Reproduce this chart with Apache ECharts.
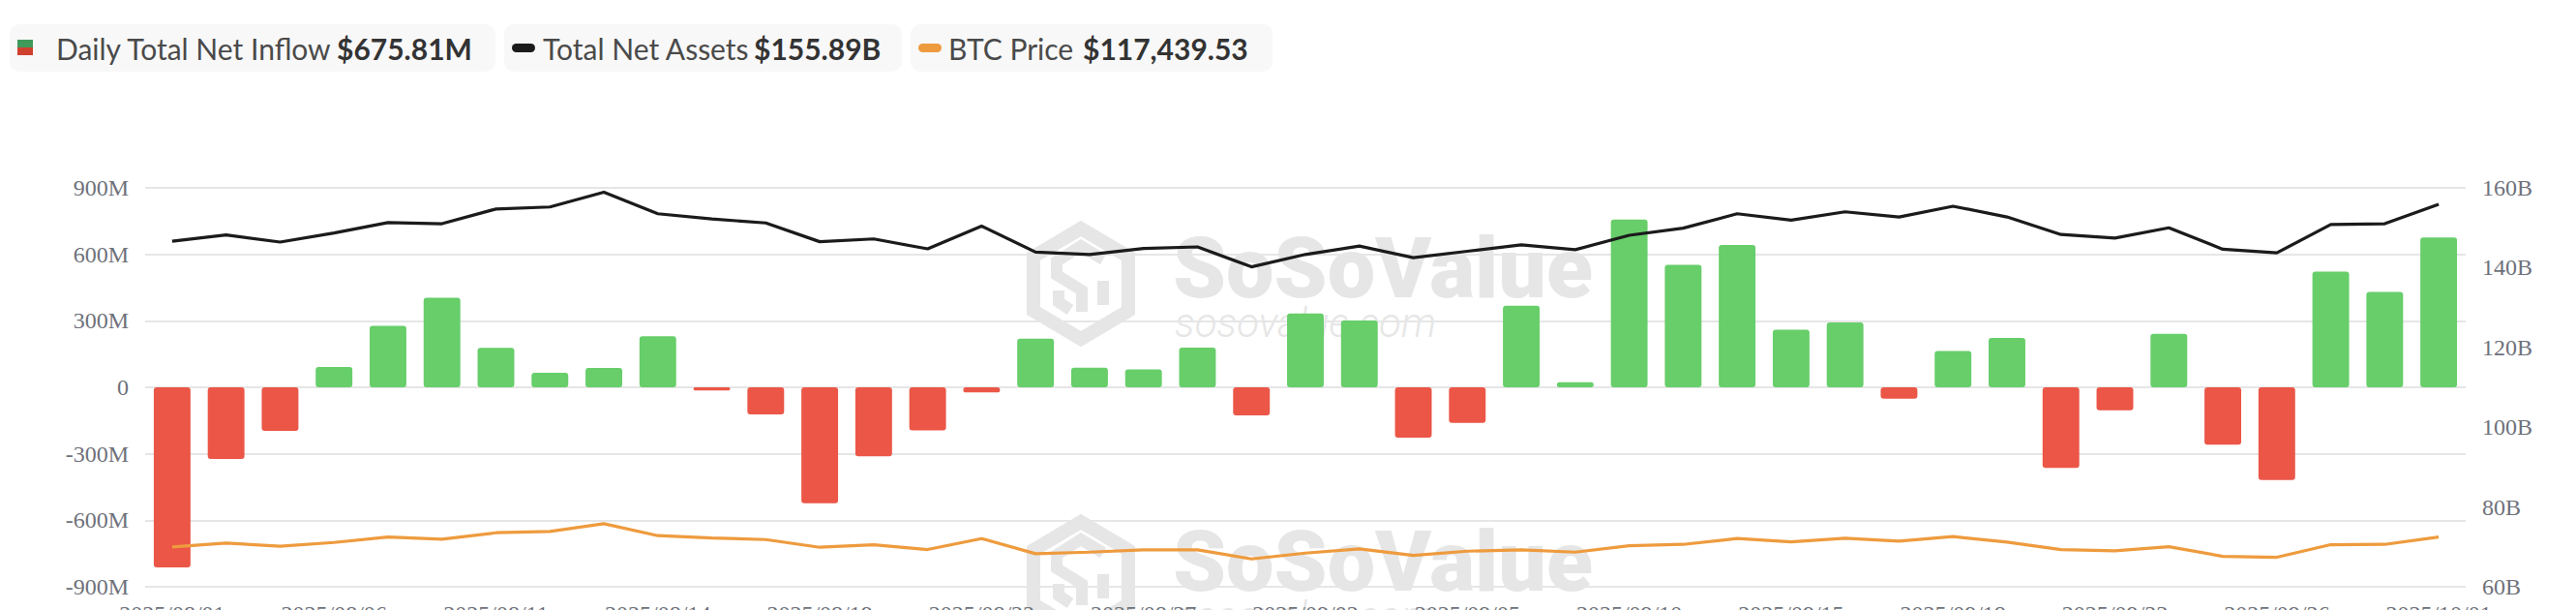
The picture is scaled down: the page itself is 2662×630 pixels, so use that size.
<!DOCTYPE html>
<html>
<head>
<meta charset="utf-8">
<script src="https://cdn.jsdelivr.net/npm/echarts@6/dist/echarts.min.js"></script>
<style>
html,body{margin:0;padding:0;background:#fff;overflow:hidden;}
#c{width:2662px;height:630px;}
</style>
</head>
<body>
<div id="c"></div>
<script>
const dates = ['2025/08/01','2025/08/04','2025/08/05','2025/08/06','2025/08/07','2025/08/08','2025/08/11','2025/08/12','2025/08/13','2025/08/14','2025/08/15','2025/08/18','2025/08/19','2025/08/20','2025/08/21','2025/08/22','2025/08/25','2025/08/26','2025/08/27','2025/08/28','2025/08/29','2025/09/02','2025/09/03','2025/09/04','2025/09/05','2025/09/08','2025/09/09','2025/09/10','2025/09/11','2025/09/12','2025/09/15','2025/09/16','2025/09/17','2025/09/18','2025/09/19','2025/09/22','2025/09/23','2025/09/24','2025/09/25','2025/09/26','2025/09/29','2025/09/30','2025/10/01'];
// Daily total net inflow, in millions USD
const netInflow = [-812.25,-323.48,-196.18,91.55,277.39,403.88,178.15,65.47,86.91,230.93,-14.12,-121.81,-523.31,-311.83,-194.35,-23.19,219.0,88.2,81.3,178.99,-126.64,332.7,301.3,-227.61,-160.07,368.25,23.05,757.14,552.78,642.35,260.02,292.27,-51.28,163.34,222.98,-363.17,-103.61,241.0,-258.45,-418.25,521.95,429.96,675.81];
// Total net assets, in billions USD
const netAssets = [146.6,148.2,146.4,148.7,151.3,151.0,154.7,155.2,158.9,153.5,152.2,151.2,146.5,147.2,144.7,150.4,143.9,143.3,144.8,145.2,140.2,143.3,145.4,142.5,144.1,145.7,144.5,148.1,149.9,153.5,151.9,154.0,152.7,155.4,152.7,148.3,147.4,150.0,144.6,143.7,150.8,151.0,155.89];
// BTC price, USD
const btcPrice = [113190,114840,113470,115110,117440,116480,119220,119770,123060,117990,117030,116340,113060,114150,112100,116760,110320,111000,111960,111960,108120,110590,112370,109630,111410,111960,111000,113740,114290,116760,115390,116890,115660,117580,115250,112100,111550,113330,109220,108810,114150,114290,117439.53];
const leftTicks = {min:-900, max:900, interval:300};
const rightTicks = {min:60, max:160, interval:20};
const legendNames = ['Daily Total Net Inflow','Total Net Assets','BTC Price'];
const legendValues = ['$675.81M','$155.89B','$117,439.53'];

const GREEN = '#67CE6A', RED = '#EB5647', BLACK = '#1b1b1b', ORANGE = '#EE9B3E';
const labelFont = '"Liberation Serif", "Times New Roman", serif';
const legFont = 'Lato, "Noto Sans", sans-serif';
const WM = '#e6e6e6';

const chart = echarts.init(document.getElementById('c'), null, {renderer:'svg'});

function wm(dy){
  return [
    {type:'polygon', z:0, shape:{points:[[1117,236+dy],[1166,265+dy],[1166,321+dy],[1117,350+dy],[1068,321+dy],[1068,265+dy]]},
      style:{fill:'none', stroke:WM, lineWidth:14, lineJoin:'miter'}},
    {type:'polyline', z:0, shape:{points:[[1140,268+dy],[1117,254+dy],[1092,270+dy],[1092,284+dy],[1118,300+dy],[1118,322+dy]]},
      style:{fill:'none', stroke:WM, lineWidth:12}},
    {type:'polyline', z:0, shape:{points:[[1140,290+dy],[1140,315+dy]]},
      style:{fill:'none', stroke:WM, lineWidth:12}},
    {type:'polyline', z:0, shape:{points:[[1094,300+dy],[1094,312+dy],[1106,320+dy]]},
      style:{fill:'none', stroke:WM, lineWidth:12}},
    {type:'text', z:0, x:1212, y:276+dy, style:{text:'SoSoValue', fill:WM, font:'900 88px Roboto, sans-serif', verticalAlign:'middle'}},
    {type:'text', z:0, x:1214, y:333+dy, style:{text:'sosovalue.com', fill:WM, font:'italic 300 42px Roboto, sans-serif', verticalAlign:'middle'}}
  ];
}

const legendGraphics = [
  {type:'rect', shape:{x:10,y:25,width:502,height:49,r:10}, style:{fill:'#f8f8f8'}},
  {type:'rect', shape:{x:521,y:25,width:411,height:49,r:10}, style:{fill:'#f8f8f8'}},
  {type:'rect', shape:{x:941,y:25,width:374,height:49,r:10}, style:{fill:'#f8f8f8'}},
  {type:'rect', shape:{x:18,y:41,width:16,height:8}, style:{fill:'#3f9a5c'}},
  {type:'rect', shape:{x:18,y:49,width:16,height:8}, style:{fill:'#d0402f'}},
  {type:'rect', shape:{x:529,y:45,width:24,height:9,r:4.5}, style:{fill:BLACK}},
  {type:'rect', shape:{x:949,y:45,width:24,height:9,r:4.5}, style:{fill:ORANGE}},
  {type:'text', x:58, y:50, style:{text:legendNames[0], fill:'#4a4a4a', font:'400 30px '+legFont, verticalAlign:'middle'}},
  {type:'text', x:348, y:50, style:{text:legendValues[0], fill:'#333', font:'700 30px '+legFont, verticalAlign:'middle'}},
  {type:'text', x:561, y:50, style:{text:legendNames[1], fill:'#4a4a4a', font:'400 30px '+legFont, verticalAlign:'middle'}},
  {type:'text', x:779, y:50, style:{text:legendValues[1], fill:'#333', font:'700 30px '+legFont, verticalAlign:'middle'}},
  {type:'text', x:980, y:50, style:{text:legendNames[2], fill:'#4a4a4a', font:'400 30px '+legFont, verticalAlign:'middle'}},
  {type:'text', x:1119, y:50, style:{text:legendValues[2], fill:'#333', font:'700 30px '+legFont, verticalAlign:'middle'}}
];

const option = {
  animation:false,
  backgroundColor:'#fff',
  graphic: wm(0).concat(wm(303)).concat(legendGraphics),
  grid:{left:150, right:114, top:194, bottom:24, containLabel:false, outerBoundsMode:'none'},
  xAxis:{
    type:'category', data:dates, boundaryGap:true,
    axisLine:{show:false}, axisTick:{show:false},
    axisLabel:{interval:2, color:'#6e717a', fontFamily:labelFont, fontSize:24, margin:16}
  },
  yAxis:[
    {type:'value', position:'left', min:leftTicks.min, max:leftTicks.max, interval:leftTicks.interval,
      axisLine:{show:false}, axisTick:{show:false},
      splitLine:{lineStyle:{color:'#e6e6e6', width:2}},
      axisLabel:{color:'#6e717a', fontFamily:labelFont, fontSize:24, margin:17,
        formatter:v => v === 0 ? '0' : v + 'M'}},
    {type:'value', position:'right', min:rightTicks.min, max:rightTicks.max, interval:rightTicks.interval,
      axisLine:{show:false}, axisTick:{show:false}, splitLine:{show:false},
      axisLabel:{color:'#6e717a', fontFamily:labelFont, fontSize:24, margin:17,
        formatter:v => v + 'B'}},
    {type:'value', position:'right', show:false, min:96300, max:265600, splitLine:{show:false}}
  ],
  series:[
    {name:legendNames[0], type:'bar', yAxisIndex:0, data:netInflow, barWidth:'68%', z:3,
      itemStyle:{borderRadius:3, color:p => p.value >= 0 ? GREEN : RED}},
    {name:legendNames[1], type:'line', yAxisIndex:1, data:netAssets, symbol:'none', z:4,
      lineStyle:{color:BLACK, width:3.2}},
    {name:legendNames[2], type:'line', yAxisIndex:2, data:btcPrice, symbol:'none', z:4,
      lineStyle:{color:ORANGE, width:3.2}}
  ]
};
chart.setOption(option);
</script>
</body>
</html>
